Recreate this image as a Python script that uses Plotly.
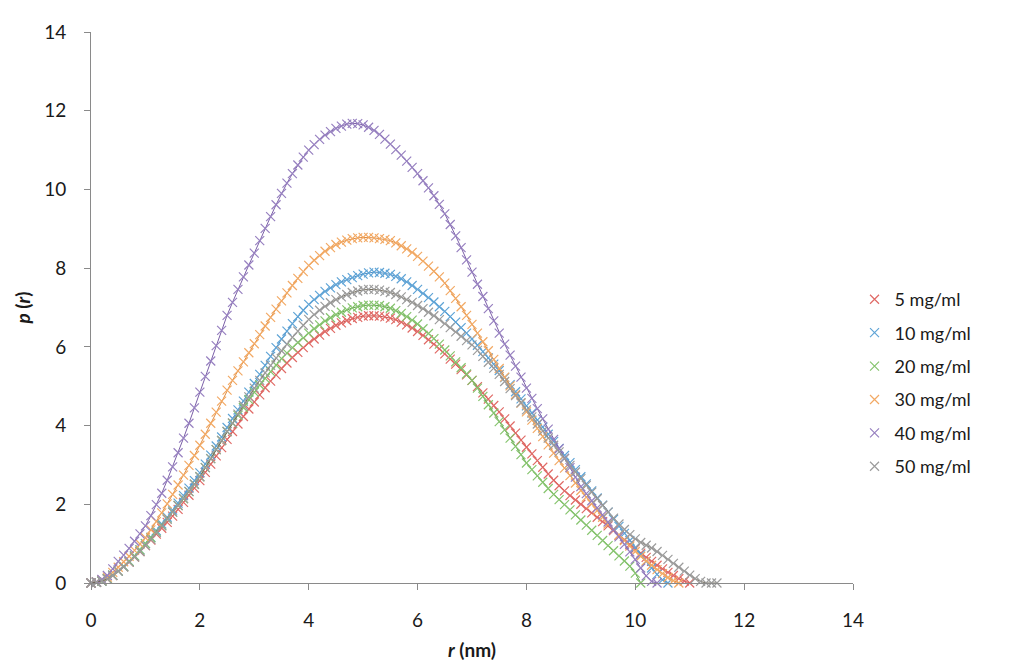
import plotly.graph_objects as go

# r grid (nm), 0.1 nm step
r_nm = [0.0, 0.1, 0.2, 0.3, 0.4, 0.5, 0.6, 0.7, 0.8, 0.9,
        1.0, 1.1, 1.2, 1.3, 1.4, 1.5, 1.6, 1.7, 1.8, 1.9,
        2.0, 2.1, 2.2, 2.3, 2.4, 2.5, 2.6, 2.7, 2.8, 2.9,
        3.0, 3.1, 3.2, 3.3, 3.4, 3.5, 3.6, 3.7, 3.8, 3.9,
        4.0, 4.1, 4.2, 4.3, 4.4, 4.5, 4.6, 4.7, 4.8, 4.9,
        5.0, 5.1, 5.2, 5.3, 5.4, 5.5, 5.6, 5.7, 5.8, 5.9,
        6.0, 6.1, 6.2, 6.3, 6.4, 6.5, 6.6, 6.7, 6.8, 6.9,
        7.0, 7.1, 7.2, 7.3, 7.4, 7.5, 7.6, 7.7, 7.8, 7.9,
        8.0, 8.1, 8.2, 8.3, 8.4, 8.5, 8.6, 8.7, 8.8, 8.9,
        9.0, 9.1, 9.2, 9.3, 9.4, 9.5, 9.6, 9.7, 9.8, 9.9,
        10.0, 10.1, 10.2, 10.3, 10.4, 10.5, 10.6, 10.7, 10.8, 10.9,
        11.0, 11.1, 11.2, 11.3, 11.4, 11.5]

p_5 = [0.00, 0.02, 0.05, 0.10, 0.19, 0.30, 0.41, 0.53, 0.66, 0.80,
       0.95, 1.09, 1.24, 1.39, 1.54, 1.70, 1.87, 2.05, 2.23, 2.41,
       2.60, 2.81, 3.02, 3.23, 3.44, 3.65, 3.85, 4.04, 4.23, 4.42,
       4.60, 4.78, 4.96, 5.13, 5.29, 5.45, 5.59, 5.73, 5.86, 5.98,
       6.10, 6.20, 6.30, 6.39, 6.47, 6.55, 6.61, 6.67, 6.72, 6.75,
       6.78, 6.79, 6.79, 6.78, 6.76, 6.73, 6.69, 6.63, 6.56, 6.48,
       6.39, 6.29, 6.18, 6.07, 5.95, 5.82, 5.69, 5.56, 5.42, 5.29,
       5.15, 4.99, 4.83, 4.67, 4.51, 4.35, 4.17, 3.99, 3.81, 3.63,
       3.45, 3.28, 3.11, 2.94, 2.77, 2.61, 2.47, 2.34, 2.22, 2.11,
       2.00, 1.89, 1.78, 1.67, 1.56, 1.45, 1.33, 1.21, 1.10, 0.98,
       0.87, 0.76, 0.65, 0.55, 0.45, 0.36, 0.27, 0.19, 0.11, 0.05,
       0.00]

p_10 = [0.00, 0.02, 0.05, 0.11, 0.20, 0.30, 0.42, 0.55, 0.69, 0.84,
        1.00, 1.16, 1.33, 1.50, 1.67, 1.85, 2.03, 2.22, 2.41, 2.60,
        2.80, 3.02, 3.25, 3.48, 3.71, 3.95, 4.18, 4.40, 4.62, 4.85,
        5.07, 5.30, 5.53, 5.76, 5.98, 6.20, 6.40, 6.59, 6.77, 6.93,
        7.08, 7.20, 7.31, 7.41, 7.50, 7.58, 7.65, 7.71, 7.76, 7.81,
        7.85, 7.88, 7.90, 7.89, 7.87, 7.84, 7.79, 7.73, 7.65, 7.56,
        7.46, 7.36, 7.25, 7.14, 7.02, 6.90, 6.77, 6.63, 6.49, 6.35,
        6.20, 6.04, 5.88, 5.72, 5.56, 5.40, 5.22, 5.04, 4.86, 4.68,
        4.50, 4.32, 4.14, 3.96, 3.78, 3.60, 3.42, 3.24, 3.06, 2.88,
        2.70, 2.52, 2.34, 2.16, 1.98, 1.80, 1.62, 1.44, 1.26, 1.08,
        0.90, 0.72, 0.55, 0.38, 0.22, 0.08, 0.00]

p_20 = [0.00, 0.02, 0.05, 0.11, 0.20, 0.30, 0.42, 0.55, 0.69, 0.84,
        1.00, 1.15, 1.30, 1.46, 1.63, 1.80, 1.97, 2.14, 2.32, 2.51,
        2.70, 2.93, 3.16, 3.39, 3.62, 3.85, 4.06, 4.26, 4.46, 4.66,
        4.85, 5.03, 5.20, 5.37, 5.54, 5.70, 5.84, 5.98, 6.11, 6.23,
        6.35, 6.46, 6.56, 6.66, 6.74, 6.82, 6.88, 6.94, 6.99, 7.02,
        7.05, 7.06, 7.06, 7.05, 7.02, 6.98, 6.92, 6.85, 6.77, 6.68,
        6.58, 6.46, 6.34, 6.21, 6.07, 5.92, 5.77, 5.62, 5.47, 5.31,
        5.15, 4.95, 4.74, 4.53, 4.32, 4.10, 3.89, 3.68, 3.47, 3.26,
        3.05, 2.88, 2.72, 2.56, 2.40, 2.25, 2.12, 1.99, 1.86, 1.73,
        1.60, 1.47, 1.34, 1.21, 1.08, 0.95, 0.82, 0.69, 0.56, 0.43,
        0.25, 0.00]

p_30 = [0.00, 0.03, 0.08, 0.15, 0.27, 0.40, 0.54, 0.68, 0.83, 0.99,
        1.15, 1.35, 1.56, 1.78, 2.01, 2.25, 2.49, 2.74, 2.99, 3.24,
        3.50, 3.78, 4.06, 4.34, 4.62, 4.90, 5.15, 5.39, 5.62, 5.85,
        6.08, 6.31, 6.53, 6.75, 6.96, 7.17, 7.37, 7.56, 7.74, 7.91,
        8.07, 8.20, 8.32, 8.43, 8.52, 8.60, 8.66, 8.71, 8.75, 8.77,
        8.78, 8.78, 8.77, 8.75, 8.73, 8.70, 8.64, 8.57, 8.49, 8.40,
        8.30, 8.18, 8.05, 7.92, 7.78, 7.62, 7.43, 7.23, 7.02, 6.80,
        6.57, 6.35, 6.13, 5.90, 5.68, 5.45, 5.23, 5.01, 4.79, 4.57,
        4.35, 4.14, 3.93, 3.72, 3.51, 3.30, 3.11, 2.92, 2.73, 2.54,
        2.35, 2.18, 2.01, 1.84, 1.67, 1.50, 1.36, 1.22, 1.08, 0.94,
        0.80, 0.68, 0.56, 0.45, 0.34, 0.24, 0.14, 0.06, 0.00]

p_40 = [0.00, 0.03, 0.09, 0.19, 0.36, 0.55, 0.71, 0.88, 1.06, 1.25,
        1.45, 1.71, 1.99, 2.28, 2.61, 2.95, 3.31, 3.68, 4.06, 4.45,
        4.85, 5.25, 5.64, 6.03, 6.42, 6.80, 7.13, 7.46, 7.78, 8.08,
        8.38, 8.70, 9.01, 9.31, 9.61, 9.90, 10.16, 10.40, 10.62, 10.82,
        11.00, 11.14, 11.27, 11.38, 11.47, 11.55, 11.61, 11.66, 11.68, 11.67,
        11.64, 11.58, 11.50, 11.40, 11.28, 11.15, 11.01, 10.87, 10.72, 10.56,
        10.40, 10.22, 10.04, 9.84, 9.62, 9.38, 9.11, 8.82, 8.52, 8.21,
        7.90, 7.59, 7.28, 6.97, 6.66, 6.35, 6.07, 5.79, 5.51, 5.23,
        4.95, 4.69, 4.43, 4.17, 3.91, 3.65, 3.41, 3.17, 2.93, 2.69,
        2.45, 2.27, 2.09, 1.91, 1.73, 1.55, 1.36, 1.17, 0.98, 0.79,
        0.60, 0.38, 0.18, 0.04, 0.00]

p_50 = [0.00, 0.02, 0.05, 0.10, 0.19, 0.30, 0.41, 0.53, 0.66, 0.80,
        0.95, 1.11, 1.28, 1.45, 1.62, 1.80, 1.97, 2.15, 2.33, 2.51,
        2.70, 2.93, 3.16, 3.39, 3.62, 3.85, 4.07, 4.29, 4.51, 4.73,
        4.95, 5.15, 5.34, 5.53, 5.72, 5.90, 6.07, 6.24, 6.40, 6.55,
        6.70, 6.82, 6.93, 7.03, 7.12, 7.20, 7.27, 7.33, 7.38, 7.42,
        7.45, 7.46, 7.46, 7.44, 7.41, 7.38, 7.33, 7.27, 7.20, 7.13,
        7.05, 6.97, 6.88, 6.79, 6.69, 6.59, 6.49, 6.38, 6.27, 6.16,
        6.05, 5.91, 5.76, 5.61, 5.46, 5.30, 5.12, 4.94, 4.76, 4.58,
        4.40, 4.22, 4.04, 3.86, 3.68, 3.50, 3.33, 3.16, 2.99, 2.82,
        2.65, 2.48, 2.31, 2.14, 1.97, 1.80, 1.65, 1.50, 1.36, 1.23,
        1.12, 1.03, 0.96, 0.89, 0.80, 0.70, 0.60, 0.50, 0.40, 0.30,
        0.20, 0.11, 0.04, 0.00, 0.00, 0.00]

names = ['5 mg/ml', '10 mg/ml', '20 mg/ml', '30 mg/ml', '40 mg/ml', '50 mg/ml']
series = [p_5, p_10, p_20, p_30, p_40, p_50]
marker_colors = ['#E06A66', '#5FA4D6', '#86C46E', '#F2A964', '#9780C0', '#9C9C9C']
line_colors = ['#C9504C', '#4A8CC4', '#5F9E4A', '#E08B3E', '#7B5FA8', '#6F6856']

fig = go.Figure()
for i, (name, p) in enumerate(zip(names, series)):
    fig.add_trace(go.Scatter(
        x=r_nm[:len(p)],
        y=p,
        mode='lines+markers',
        name=name,
        showlegend=False,
        line=dict(color=line_colors[i], width=1),
        marker=dict(symbol='x-thin', size=9,
                    line=dict(color=marker_colors[i], width=1.2)),
        cliponaxis=False
    ))

# legend shows only the cross, like the original
for i, name in enumerate(names):
    fig.add_trace(go.Scatter(
        x=[None], y=[None],
        mode='markers',
        name=name,
        legendgroup=name,
        marker=dict(symbol='x-thin', size=9,
                    line=dict(color=marker_colors[i], width=1.2))
    ))

axis_font = dict(family='Lato, Open Sans, sans-serif', size=19, color='#1a1a1a')
# page body adds an 8px margin, so margins are shifted by 8px
fig.update_layout(
    width=1021,
    height=663,
    plot_bgcolor='white',
    paper_bgcolor='white',
    margin=dict(l=83, r=176, t=18, b=88),
    font=axis_font,
    legend=dict(
        x=1.002, y=0.548, xanchor='left', yanchor='top',
        font=dict(family='Lato, Open Sans, sans-serif', size=18, color='#1a1a1a'),
        tracegroupgap=7,
        itemwidth=30
    )
)
fig.update_xaxes(
    range=[0, 14], dtick=2, showgrid=False, zeroline=False,
    showline=True, linecolor='#8A8A8A', linewidth=1,
    ticks='outside', ticklen=6, tickcolor='#8A8A8A',
    ticklabelstandoff=14,
    title=dict(text='<b><i>r</i> (nm)</b>', standoff=13, font=axis_font)
)
fig.update_yaxes(
    range=[0, 14], dtick=2, showgrid=False, zeroline=False,
    showline=True, linecolor='#8A8A8A', linewidth=1,
    ticks='outside', ticklen=6, tickcolor='#8A8A8A',
    ticklabelstandoff=14,
    title=dict(text='<b><i>p</i> (<i>r</i>)</b>', standoff=8, font=axis_font)
)
fig.write_html('out.html')
